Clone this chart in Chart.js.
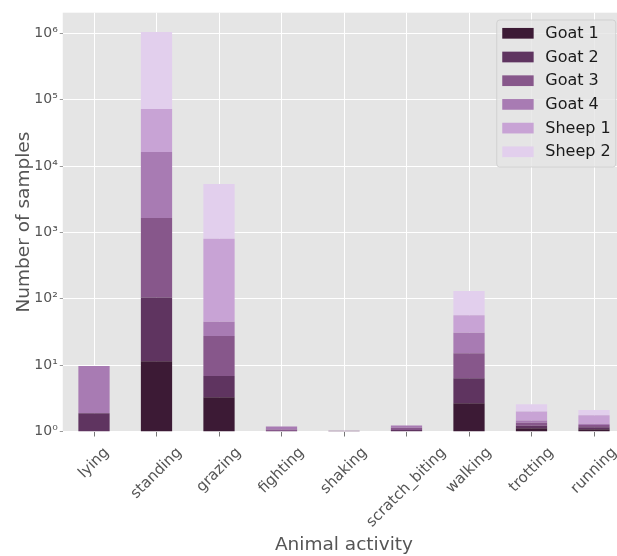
<!DOCTYPE html>
<html>
<head>
<meta charset="utf-8">
<script src="https://cdn.jsdelivr.net/npm/chart.js@4/dist/chart.umd.min.js"></script>
<style>
  html, body { margin: 0; padding: 0; background: #ffffff; overflow: hidden; width: 617px; height: 556px; }
  #c { position: absolute; left: 0; top: 0; }
</style>
</head>
<body>
<canvas id="c" width="626" height="556"></canvas>
<script>
// ---- data ----
const categories = ['lying', 'standing', 'grazing', 'fighting', 'shaking', 'scratch_biting', 'walking', 'trotting', 'running'];
const seriesNames = ['Goat 1', 'Goat 2', 'Goat 3', 'Goat 4', 'Sheep 1', 'Sheep 2'];
const goat1  = [null, 11.4,   3.28, null, null, null, 2.66, 1.12, 1.08];
const goat2  = [1.88, 92.6,   3.58, 1.02, 1.02, 1.05, 3.67, 0.10, 0.08];
const goat3  = [null, 1544,   20.6, 0.05, 0.01, 0.09, 8.8,  0.13, 0.09];
const goat4  = [7.8,  14612,  17.6, 0.12, null, 0.09, 15.7, 0.12, 0.06];
const sheep1 = [null, 56040,  759,  null, null, null, 25.5, 0.54, 0.44];
const sheep2 = [null, 972700, 4553, null, null, null, 74.7, 0.56, 0.36];
const yTickValues = [1, 10, 100, 1000, 10000, 100000, 1000000];
const yTickLabels = ['10\u2070', '10\u00B9', '10\u00B2', '10\u00B3', '10\u2074', '10\u2075', '10\u2076'];

const colors = ['#3c1a35', '#5f3460', '#87578b', '#a87bb3', '#c8a3d5', '#e2cfed'];
const seriesValues = [goat1, goat2, goat3, goat4, sheep1, sheep2];
const FONT = "'DejaVu Sans', 'Liberation Sans', sans-serif";

const bgPlugin = {
  id: 'bg',
  beforeDraw(chart) {
    const { ctx, chartArea: a } = chart;
    ctx.save();
    ctx.fillStyle = '#e5e5e5';
    ctx.fillRect(a.left, a.top, a.right - a.left, a.bottom - a.top);
    ctx.restore();
  }
};

const xLabelPlugin = {
  id: 'xlabels',
  afterDraw(chart) {
    const { ctx, chartArea: a } = chart;
    const xs = chart.scales.x;
    const size = 15;
    ctx.save();
    ctx.font = size + 'px ' + FONT;
    ctx.fillStyle = '#555555';
    ctx.textAlign = 'center';
    ctx.textBaseline = 'middle';
    const y0 = a.bottom + 12.5;
    categories.forEach((lab, i) => {
      const x = xs.getPixelForTick(i);
      const w = ctx.measureText(lab).width;
      const h = size * 1.17;
      const d = (w + h) * Math.SQRT1_2;
      ctx.save();
      ctx.translate(x, y0 + d / 2);
      ctx.rotate(-Math.PI / 4);
      ctx.fillText(lab, 0, 0);
      ctx.restore();
    });
    ctx.restore();
  }
};

const legendPlugin = {
  id: 'customLegend',
  afterDraw(chart) {
    const { ctx, chartArea: a } = chart;
    const boxW = 119, boxH = 147;
    const bx = a.right - 9.5 - boxW;
    const by = a.top + 7.3;
    ctx.save();
    ctx.beginPath();
    if (ctx.roundRect) ctx.roundRect(bx, by, boxW, boxH, 3); else ctx.rect(bx, by, boxW, boxH);
    ctx.fillStyle = 'rgba(229,229,229,0.8)';
    ctx.fill();
    ctx.strokeStyle = 'rgba(204,204,204,0.8)';
    ctx.lineWidth = 1;
    ctx.stroke();
    ctx.font = '16px ' + FONT;
    ctx.textAlign = 'left';
    ctx.textBaseline = 'middle';
    chart.data.datasets.forEach((ds, i) => {
      const cy = by + 13.3 + i * 23.7;
      ctx.fillStyle = ds.backgroundColor;
      ctx.fillRect(bx + 5.5, cy - 5.35, 31.4, 10.7);
      ctx.fillStyle = '#1a1a1a';
      ctx.fillText(ds.label, bx + 48.5, cy + 0.5);
    });
    ctx.restore();
  }
};

new Chart(document.getElementById('c'), {
  type: 'bar',
  data: {
    labels: categories,
    datasets: seriesNames.map((name, i) => ({
      label: name,
      data: seriesValues[i],
      backgroundColor: colors[i],
      borderWidth: 0,
      barPercentage: 0.5,
      categoryPercentage: 1.0
    }))
  },
  options: {
    responsive: false,
    animation: false,
    devicePixelRatio: 1,
    layout: { padding: { left: 0, right: 0.75, top: 12.7, bottom: 0 } },
    plugins: { legend: { display: false }, tooltip: { enabled: false } },
    scales: {
      x: {
        stacked: true,
        offset: true,
        grid: { color: '#ffffff', lineWidth: 1, offset: false, drawTicks: true, tickColor: '#777777', tickLength: 5 },
        border: { display: false },
        ticks: { display: false },
        title: {
          display: true, text: 'Animal activity', color: '#555555',
          font: { family: FONT, size: 18.5 }, padding: { top: 97.3, bottom: 0 }
        }
      },
      y: {
        type: 'logarithmic',
        stacked: true,
        min: 1,
        max: 2.04e6,
        afterFit(scale) { scale.width = 62.75; },
        afterBuildTicks(scale) { scale.ticks = yTickValues.map(v => ({ value: v })); },
        grid: { color: '#ffffff', lineWidth: 1, tickColor: '#999999', tickLength: 3 },
        border: { display: false },
        ticks: {
          color: '#555555',
          font: { family: FONT, size: 14 },
          padding: 2,
          autoSkip: false,
          callback: (v) => { const k = yTickValues.indexOf(v); return k >= 0 ? yTickLabels[k] : ''; }
        },
        title: {
          display: true, text: 'Number of samples', color: '#555555',
          font: { family: FONT, size: 18.5 }, padding: { top: 12.9, bottom: 0 }
        }
      }
    }
  },
  plugins: [bgPlugin, xLabelPlugin, legendPlugin]
});
</script>
</body>
</html>
